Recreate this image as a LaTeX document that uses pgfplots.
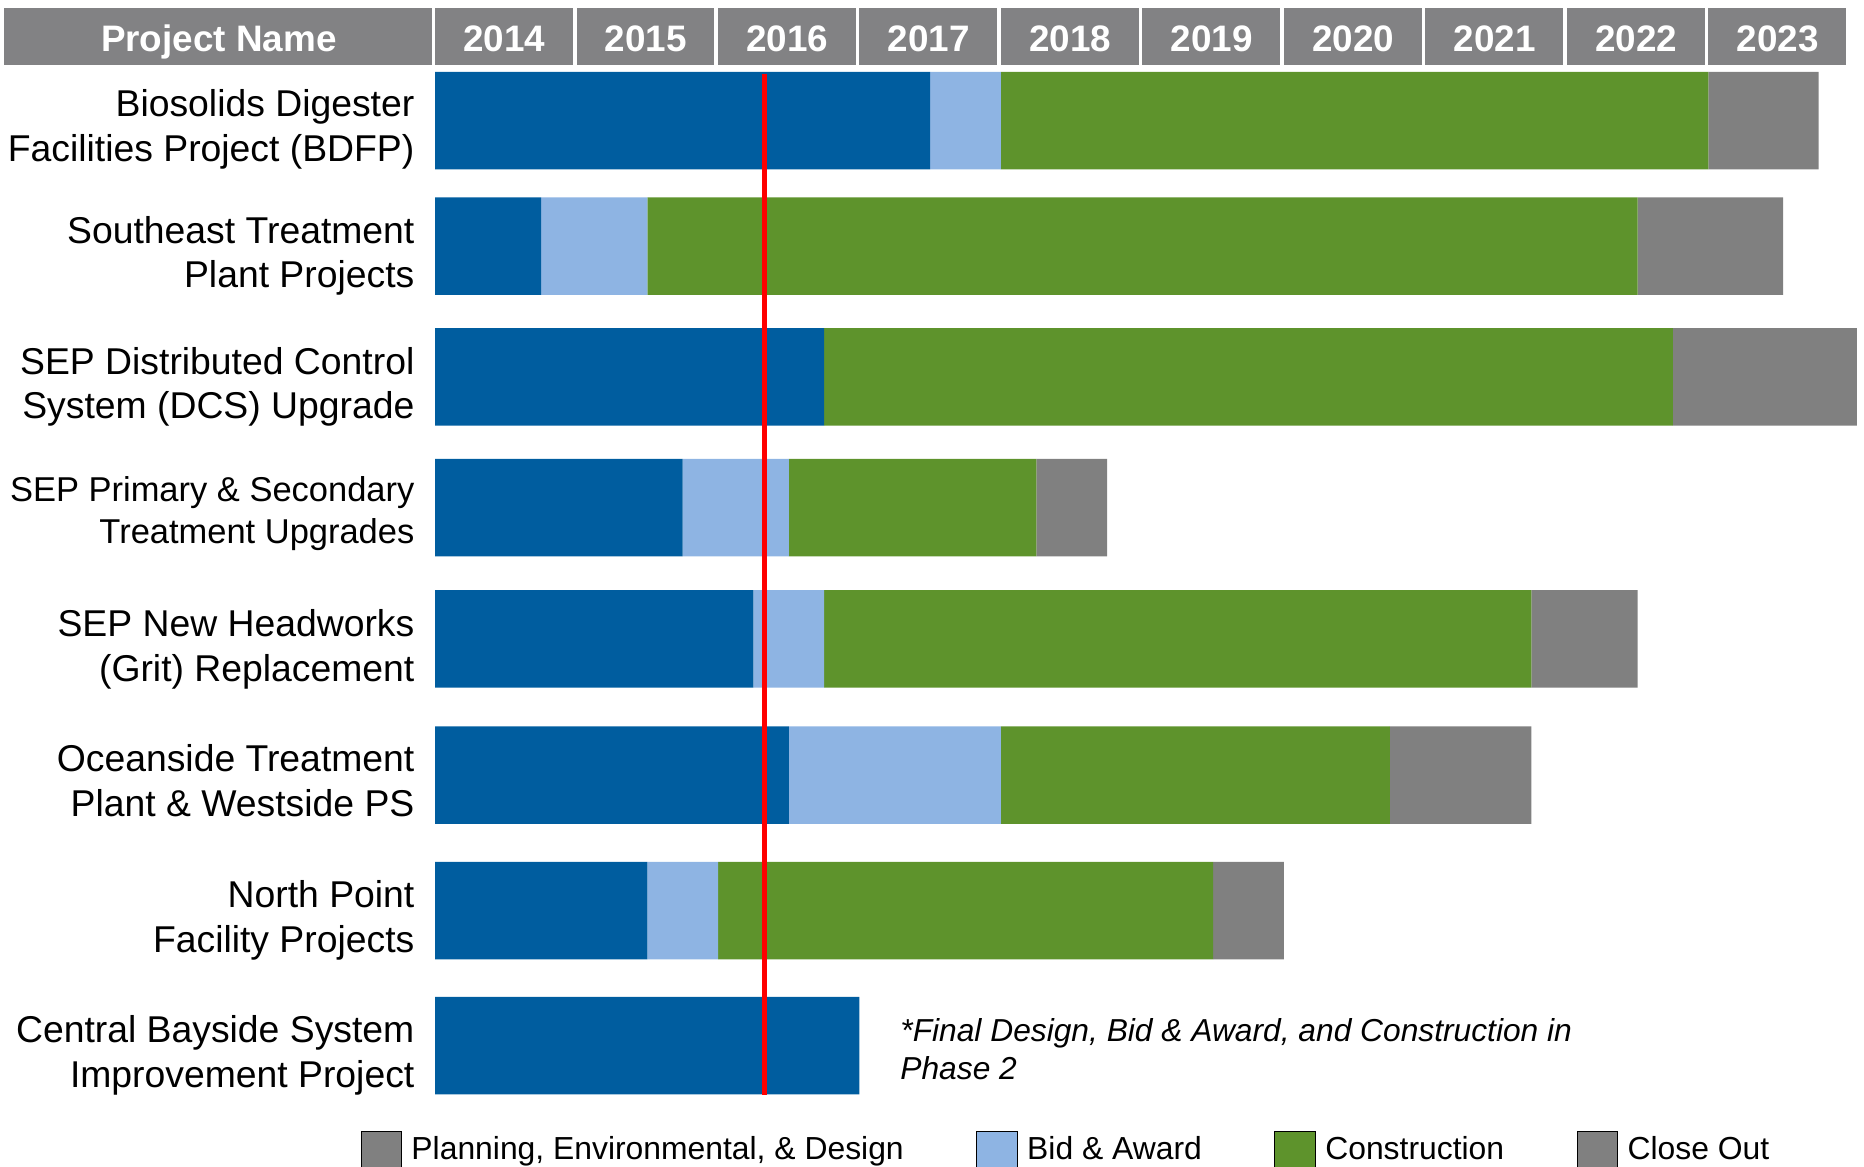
\documentclass[border=0pt]{standalone}
\usepackage{fontspec}
\setmainfont{Liberation Sans}
\usepackage{pgfplots}
\pgfplotsset{compat=1.18}
\definecolor{pedblue}{RGB}{0,93,159}
\definecolor{bidblue}{RGB}{142,180,227}
\definecolor{congreen}{RGB}{94,147,44}
\definecolor{closegray}{RGB}{128,128,128}
\definecolor{hdrgray}{RGB}{130,130,132}

% 1 px of the 1568x981 layout = 0.5pt; x in years after 1 Jan 2014, y in px from the top
\pgfplotsset{gantt frame/.style={
    scale only axis, width=784pt, height=490.5pt,
    xmin=-3.0756, xmax=10.101, ymin=0, ymax=981, y dir=reverse,
    hide axis, clip=false}}

\newcommand{\lab}[2]{\node[anchor=base east, inner sep=0pt, font=\fontsize{15.7}{19}\selectfont] at (axis cs:-0.143,#1) {#2};}
\newcommand{\labs}[2]{\node[anchor=base east, inner sep=0pt, font=\fontsize{14.5}{17}\selectfont] at (axis cs:-0.143,#1) {#2};}
\newcommand{\yearcell}[2]{%
    \fill[hdrgray] (axis cs:#1,7) rectangle (axis cs:#1+0.975,55);
    \node[anchor=base, inner sep=0pt, color=white, font=\bfseries\fontsize{15.5}{18}\selectfont]
        at (axis cs:#1+0.49,43.5) {#2};}

\begin{document}
\begin{tikzpicture}
\begin{axis}[gantt frame,
    xbar stacked, bar width=82,
    legend columns=4,
    legend image code/.code={\fill[#1] (0pt,-7.5pt) rectangle (17pt,7.5pt);},
    legend style={at={(axis cs:-0.53,967)}, anchor=west, draw=none, fill=none,
        inner sep=0pt, font=\fontsize{13.4}{16}\selectfont,
        nodes={inner sep=0pt},
        /tikz/every odd column/.append style={column sep=4pt},
        /tikz/every even column/.append style={column sep=30.5pt}},
]
    \coordinate (tl) at (axis cs:-3.0756,0);
    \coordinate (br) at (axis cs:10.101,981);

    % Planning, Environmental & Design
    \addplot[fill=pedblue, draw=none, forget plot] coordinates {
        (3.5,101.5) (0.75,207) (2.75,317) (1.75,427) (2.25,537.5) (2.5,652) (1.5,766) (3.0,879.5)};
    % Bid & Award
    \addplot[fill=bidblue, draw=none, forget plot] coordinates {
        (0.5,101.5) (0.75,207) (0,317) (0.75,427) (0.5,537.5) (1.5,652) (0.5,766) (0,879.5)};
    % Construction
    \addplot[fill=congreen, draw=none, forget plot] coordinates {
        (5.0,101.5) (7.0,207) (6.0,317) (1.75,427) (5.0,537.5) (2.75,652) (3.5,766) (0,879.5)};
    % Close Out
    \addplot[fill=closegray, draw=none, forget plot] coordinates {
        (0.78,101.5) (1.03,207) (1.3,317) (0.5,427) (0.75,537.5) (1.0,652) (0.5,766) (0,879.5)};

    \addlegendimage{fill=closegray}
    \addlegendentry{Planning, Environmental, \& Design}
    \addlegendimage{fill=bidblue}
    \addlegendentry{Bid \& Award}
    \addlegendimage{fill=congreen}
    \addlegendentry{Construction}
    \addlegendimage{fill=closegray}
    \addlegendentry{Close Out}

    % project names
    \lab{98}{Biosolids Digester}
    \lab{136}{Facilities Project (BDFP)}
    \lab{205}{Southeast Treatment}
    \lab{242}{Plant Projects}
    \lab{315}{SEP Distributed Control}
    \lab{352}{System (DCS) Upgrade}
    \labs{422}{SEP Primary \& Secondary}
    \labs{457}{Treatment Upgrades}
    \lab{535}{SEP New Headworks}
    \lab{573}{(Grit) Replacement}
    \lab{649}{Oceanside Treatment}
    \lab{687}{Plant \& Westside PS}
    \lab{763}{North Point}
    \lab{801}{Facility Projects}
    \lab{877}{Central Bayside System}
    \lab{915}{Improvement Project}

    \node[anchor=base west, inner sep=0pt, font=\itshape\fontsize{13.35}{16}\selectfont]
        at (axis cs:3.286,876) {*Final Design, Bid \& Award, and Construction in};
    \node[anchor=base west, inner sep=0pt, font=\itshape\fontsize{13.35}{16}\selectfont]
        at (axis cs:3.286,908) {Phase 2};
\end{axis}
\begin{axis}[gantt frame]
    \addplot[red, line width=2pt] coordinates {(2.33,62) (2.33,921)};

    % header row
    \fill[hdrgray] (axis cs:-3.0504,7) rectangle (axis cs:-0.0252,55);
    \node[anchor=base, inner sep=0pt, color=white, font=\bfseries\fontsize{15.5}{18}\selectfont]
        at (axis cs:-1.529,43.5) {Project Name};
    \yearcell{0}{2014}
    \yearcell{1}{2015}
    \yearcell{2}{2016}
    \yearcell{3}{2017}
    \yearcell{4}{2018}
    \yearcell{5}{2019}
    \yearcell{6}{2020}
    \yearcell{7}{2021}
    \yearcell{8}{2022}
    \yearcell{9}{2023}
\end{axis}
\pgfresetboundingbox
\useasboundingbox (tl) rectangle (br);
\end{tikzpicture}
\end{document}
